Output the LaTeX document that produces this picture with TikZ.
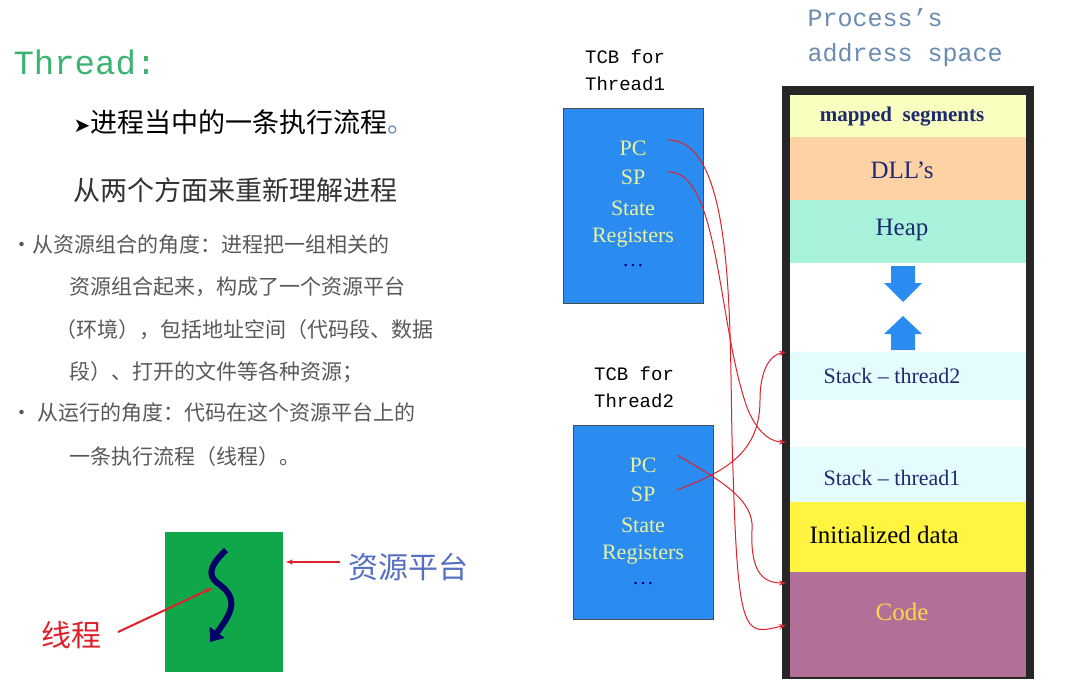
\documentclass[tikz,border=0pt]{standalone}
\usepackage{fontspec}
\setmainfont{Liberation Serif}
\newfontfamily\cjk{Noto Sans CJK SC}
\newfontfamily\mono{Liberation Mono}
\newfontfamily\dejavu{DejaVu Sans}
\usetikzlibrary{arrows.meta}
\definecolor{tcbblue}{HTML}{2A8CF0}
\definecolor{tcbtxt}{HTML}{E8F2A0}
\definecolor{titleblue}{HTML}{6A8CB0}
\definecolor{redar}{HTML}{E0202A}
\definecolor{segtxt}{HTML}{1E2A70}
\definecolor{sqgreen}{HTML}{10A64A}
\definecolor{thrgreen}{HTML}{3CB371}
\definecolor{heapc}{HTML}{A8F2DC}
\tikzset{
 tcbbox/.style={draw=black!70,fill=tcbblue,line width=1pt},
 tcbt/.style={text=tcbtxt,font=\fontsize{22}{22}\selectfont,anchor=center},
 segt/.style={text=segtxt,font=\fontsize{25}{25}\selectfont},
 cjkline/.style={anchor=west,text=black!65,font=\cjk\fontsize{21}{21}\selectfont},
 redarrow/.style={draw=redar,line width=1pt,-{Stealth[length=7pt,width=5pt]}},
 blk/.style={fill=tcbblue,draw=none}
}
\begin{document}
\begin{tikzpicture}[x=1pt,y=-1pt]
\useasboundingbox (0,0) rectangle (1071,697);
\fill[white] (0,0) rectangle (1071,697);
% left text
\node[anchor=west,text=thrgreen,font=\mono\fontsize{34}{34}\selectfont] (thr) at (10,62) {Thread:};
\node[anchor=west,font=\cjk\fontsize{27}{27}\selectfont] (l1) at (70,122) {{\dejavu\fontsize{20}{20}\selectfont ➤}进程当中的一条执行流程{\color{titleblue}。}};
\node[anchor=west,text=black!80,font=\cjk\fontsize{27}{27}\selectfont] (l2) at (70,190) {从两个方面来重新理解进程};
\node[cjkline] (b1) at (8,245) {•从资源组合的角度：进程把一组相关的};
\node[cjkline] (b2) at (66,287) {资源组合起来，构成了一个资源平台};
\node[cjkline] (b3) at (52,330) {（环境），包括地址空间（代码段、数据};
\node[cjkline] (b4) at (66,372) {段）、打开的文件等各种资源；};
\node[cjkline] (b5) at (8,413) {•\ 从运行的角度：代码在这个资源平台上的};
\node[cjkline] (b6) at (66,457) {一条执行流程（线程）。};
% green square
\node[draw=none,fill=sqgreen,minimum width=118pt,minimum height=140pt,inner sep=0pt] (sq) at (224,602) {};
\coordinate (w1) at (226,550);
\coordinate (w2) at (210,642);
\draw[draw=blue!40!black,line width=6pt,-{Triangle[length=12pt,width=18pt]}] (w1) .. controls (205,570) and (210,578) .. (220,585) .. controls (240,600) and (230,615) .. (w2);
\node[anchor=west,text=titleblue!80!blue,font=\cjk\fontsize{30}{30}\selectfont] (zy) at (345,567) {资源平台};
\node[anchor=west,text=redar,font=\cjk\fontsize{30}{30}\selectfont] (xc) at (38,635) {线程};
\coordinate (zyA) at (340,562);
\coordinate (zyB) at (286,562);
\coordinate (xcA) at (118,632);
\coordinate (xcB) at (212,588);
\draw[redarrow,line width=2pt] (zyA) -- (zyB);
\draw[redarrow,line width=2pt] (xcA) -- (xcB);
% TCB1
\node[align=center,font=\mono\fontsize{19}{27}\selectfont] (tl1) at (625,70) {TCB for\\Thread1};
\node[tcbbox,minimum width=140pt,minimum height=195pt,inner sep=0pt] (t1) at (633,205.5) {};
\node[tcbt] (pc1) at (633,148) {PC};
\node[tcbt] (sp1) at (633,177) {SP};
\node[tcbt] (st1) at (633,208) {State};
\node[tcbt] (rg1) at (633,238) {Registers};
\node[tcbt,text=blue!60!black] (d1) at (633,266) {\ldots};
% TCB2
\node[align=center,font=\mono\fontsize{19}{27}\selectfont] (tl2) at (634,387) {TCB for\\Thread2};
\node[tcbbox,minimum width=140pt,minimum height=194pt,inner sep=0pt] (t2) at (643,522) {};
\node[tcbt] (pc2) at (643,465) {PC};
\node[tcbt] (sp2) at (643,494) {SP};
\node[tcbt] (st2) at (643,525) {State};
\node[tcbt] (rg2) at (643,555) {Registers};
\node[tcbt,text=blue!60!black] (d2) at (643,584) {\ldots};
% address space
\node[anchor=west,align=left,text=titleblue,font=\mono\fontsize{25}{35}\selectfont] (pt) at (804,38) {Process’s\\address space};
\fill[black!85] (782,86) rectangle (1034,679);
\fill[white] (790,95) rectangle (1026,677);
\fill[green!10!yellow!25] (790,95) rectangle (1026,137);
\fill[orange!35] (790,137) rectangle (1026,200);
\fill[heapc] (790,200) rectangle (1026,263);
\fill[blue!10!cyan!10] (790,352) rectangle (1026,400);
\fill[blue!10!cyan!10] (790,447) rectangle (1026,502);
\fill[yellow!75] (790,502) rectangle (1026,572);
\fill[violet!45!pink!70!gray] (790,572) rectangle (1026,677);
\node[segt,font=\fontsize{21}{21}\selectfont\bfseries] (ms) at (902,117) {mapped\ \ segments};
\node[segt] (dll) at (902,170) {DLL’s};
\node[segt] (hp) at (902,230) {Heap};
\node[segt,font=\fontsize{22}{22}\selectfont] (s2) at (892,376) {Stack -- thread2};
\node[segt,font=\fontsize{22}{22}\selectfont] (s1) at (892,478) {Stack -- thread1};
\node[segt,text=black,anchor=west] (id) at (806,535) {Initialized data};
\node[segt,text=yellow!60!orange!70] (cd) at (902,612) {Code};
\fill[blk] (891,266) -- (915,266) -- (915,283) -- (922,283) -- (903,302) -- (884,283) -- (891,283) -- cycle;
\fill[blk] (891,350) -- (915,350) -- (915,334) -- (922,334) -- (903,316) -- (884,334) -- (891,334) -- cycle;
% connectors
\coordinate (aCode1) at (786,625);
\coordinate (aCode2) at (786,583);
\coordinate (aSt1) at (786,442);
\coordinate (aSt2) at (786,352);
\coordinate (p1) at (668,140);
\coordinate (q1) at (668,172);
\coordinate (p2) at (677,455);
\coordinate (q2) at (677,490);
\draw[redarrow] (p1) .. controls (740,140) and (728,350) .. (733,470) .. controls (738,640) and (745,635) .. (aCode1);
\draw[redarrow] (q1) .. controls (720,170) and (718,330) .. (748,410) .. controls (760,438) and (775,442) .. (aSt1);
\draw[redarrow] (p2) .. controls (720,480) and (755,500) .. (752,530) .. controls (750,575) and (765,583) .. (aCode2);
\draw[redarrow] (q2) .. controls (730,470) and (760,450) .. (760,400) .. controls (760,370) and (770,355) .. (aSt2);
\end{tikzpicture}
\end{document}
